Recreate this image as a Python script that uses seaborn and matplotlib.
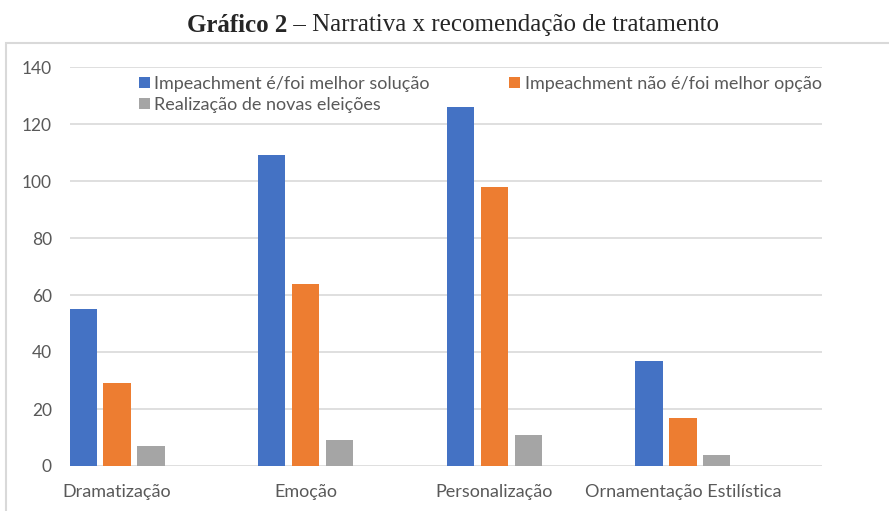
import pandas as pd
import matplotlib.pyplot as plt
import seaborn as sns
from matplotlib.patches import Rectangle

categorias = ['Dramatização', 'Emoção', 'Personalização', 'Ornamentação Estilística']
series = ['Impeachment é/foi melhor solução',
          'Impeachment não é/foi melhor opção',
          'Realização de novas eleições']
melhor_solucao = [55, 109, 126, 37]
nao_melhor = [29, 64, 98, 17]
novas_eleicoes = [7, 9, 11, 4]
cores = ['#4472C4', '#ED7D31', '#A5A5A5']
yticks = [0, 20, 40, 60, 80, 100, 120, 140]

rows = []
for nome, valores in zip(series, [melhor_solucao, nao_melhor, novas_eleicoes]):
    for cat, v in zip(categorias, valores):
        rows.append({'categoria': cat, 'serie': nome, 'valor': v})
df = pd.DataFrame(rows)

sns.set_style('white')
plt.rcParams['font.family'] = ['Lato', 'DejaVu Sans']

fig = plt.figure(figsize=(8.89, 5.11), dpi=100)
ax = fig.add_axes([70 / 889, 1 - 466 / 511, (822 - 70) / 889, (466 - 67) / 511])

sns.barplot(data=df, x='categoria', y='valor', hue='serie', palette=cores,
            saturation=1, width=0.54, gap=0.2, linewidth=0, ax=ax, zorder=3)

ax.set_ylim(0, 140)
ax.set_yticks(yticks)
ax.set_xlim(-0.249, 3.737)
ax.set_xlabel('')
ax.set_ylabel('')
ax.grid(axis='y', color='#D9D9D9', linewidth=1.2, zorder=0)
sns.despine(ax=ax, left=True, bottom=True, top=True, right=True)
ax.tick_params(axis='both', length=0, colors='#595959')
ax.tick_params(axis='y', labelsize=12.5, pad=13)
ax.tick_params(axis='x', labelsize=13, pad=13)

handles, labels = ax.get_legend_handles_labels()
order = [0, 2, 1]
leg = ax.legend([handles[i] for i in order], [labels[i] for i in order],
                ncol=2, loc='upper left', bbox_to_anchor=(0.075, 1.01),
                frameon=False, fontsize=13, labelcolor='#595959',
                handlelength=0.6, handleheight=0.6, handletextpad=0.25,
                columnspacing=4.4, labelspacing=0.3, borderaxespad=0.3)

# moldura cinza em volta do gráfico
fig.patches.append(Rectangle((6 / 889, -0.05), 1.0, 1 - 43 / 511 + 0.05,
                             transform=fig.transFigure, fill=False,
                             edgecolor='#D9D9D9', linewidth=1.5))

# título com parte em negrito
r = fig.canvas.get_renderer()
t1 = fig.text(0, 1 - 25 / 511, 'Gráfico 2', family='Liberation Serif',
              weight='bold', fontsize=18, va='center')
t2 = fig.text(0, 1 - 25 / 511, ' – Narrativa x recomendação de tratamento',
              family='Liberation Serif', fontsize=18, va='center')
w1 = t1.get_window_extent(r).width
w2 = t2.get_window_extent(r).width
x0 = 453 - (w1 + w2) / 2
t1.set_x(x0 / 889)
t2.set_x((x0 + w1) / 889)

fig.savefig('out.png', dpi=100)
